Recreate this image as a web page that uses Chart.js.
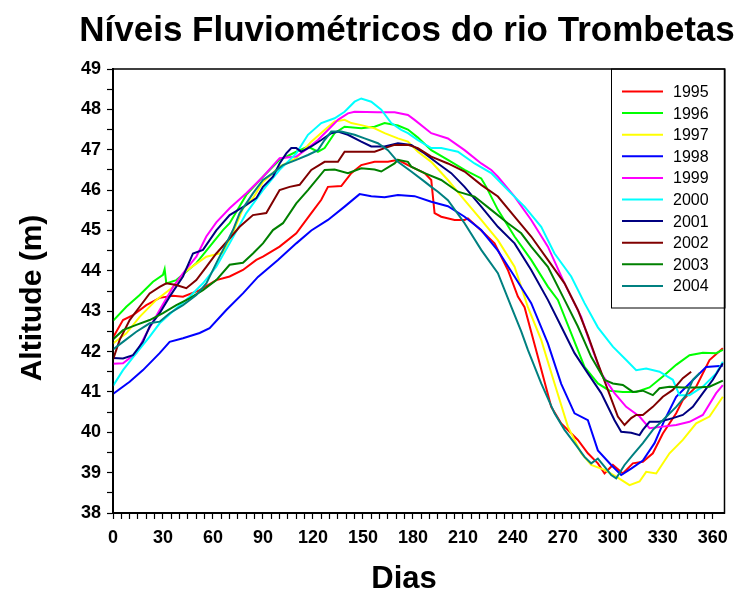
<!DOCTYPE html>
<html lang="pt">
<head>
<meta charset="utf-8">
<title>Níveis Fluviométricos do rio Trombetas</title>
<script src="https://cdn.jsdelivr.net/npm/chart.js@4.4.1/dist/chart.umd.min.js"></script>
<style>
  html, body { margin: 0; padding: 0; background: #fff; }
  #wrap { width: 736px; height: 597px; }
</style>
</head>
<body>
<div id="wrap"><canvas id="grafico" width="736" height="597"></canvas></div>
<script>
// --- dados (dia do ano, nível em metros) ---
const anos = ['1995', '1996', '1997', '1998', '1999', '2000', '2001', '2002', '2003', '2004'];
const cores = ['#ff0000', '#00ff00', '#ffff00', '#0000ff', '#ff00ff', '#00ffff', '#000080', '#800000', '#008000', '#008080'];

const dias1995 = [0, 6, 12, 20, 28, 36, 42, 52, 62, 70, 78, 86, 90, 100, 110, 119, 125, 129, 137, 143, 149, 157, 165, 171, 177, 181, 187, 191, 193, 197, 205, 211, 213, 221, 229, 237, 243, 247, 255, 263, 269, 279, 285, 291, 295, 300, 306, 312, 318, 324, 330, 338, 342, 350, 358, 366];
const nivel1995 = [42.35, 42.78, 42.9, 43.15, 43.33, 43.38, 43.36, 43.52, 43.77, 43.86, 44.02, 44.27, 44.35, 44.6, 44.93, 45.43, 45.76, 46.08, 46.1, 46.42, 46.62, 46.7, 46.7, 46.75, 46.62, 46.54, 46.42, 46.25, 45.43, 45.34, 45.26, 45.26, 45.3, 45.0, 44.68, 44.02, 43.36, 43.1, 41.87, 40.63, 40.22, 39.81, 39.48, 39.23, 38.98, 39.19, 38.98, 39.23, 39.27, 39.48, 39.97, 40.47, 40.8, 41.13, 41.79, 42.08];

const dias1996 = [0, 8, 16, 24, 30, 31, 32, 38, 50, 58, 66, 70, 80, 90, 100, 110, 117, 123, 127, 133, 139, 149, 157, 163, 171, 177, 183, 191, 201, 211, 221, 224, 231, 241, 251, 261, 267, 275, 283, 291, 298, 306, 314, 322, 330, 338, 346, 354, 362, 366];
const nivel1996 = [42.76, 43.11, 43.4, 43.73, 43.9, 44.04, 43.69, 43.77, 44.19, 44.6, 45.01, 45.18, 45.88, 46.33, 46.75, 46.95, 47.08, 46.95, 47.04, 47.41, 47.57, 47.53, 47.57, 47.66, 47.6, 47.5, 47.3, 46.99, 46.75, 46.5, 46.29, 46.08, 45.51, 44.85, 44.27, 43.61, 43.28, 42.45, 41.62, 41.21, 41.03, 41.0, 41.0, 41.11, 41.38, 41.67, 41.91, 41.97, 41.96, 42.04];

const dias1997 = [0, 8, 16, 26, 36, 44, 56, 66, 72, 78, 84, 90, 100, 110, 119, 127, 133, 139, 143, 149, 157, 163, 171, 177, 183, 191, 201, 211, 221, 231, 241, 249, 257, 265, 273, 281, 287, 295, 302, 310, 316, 320, 326, 334, 342, 350, 358, 366];
const nivel1997 = [42.2, 42.45, 42.86, 43.28, 43.6, 44.0, 44.35, 44.45, 44.95, 45.55, 45.8, 46.2, 46.58, 46.79, 47.2, 47.49, 47.7, 47.74, 47.66, 47.61, 47.53, 47.41, 47.28, 47.2, 46.95, 46.7, 46.25, 45.75, 45.26, 44.76, 44.1, 43.1, 42.29, 41.21, 40.14, 39.48, 39.19, 39.07, 38.9, 38.69, 38.78, 39.02, 38.98, 39.48, 39.81, 40.22, 40.39, 40.88];

const dias1998 = [0, 10, 18, 28, 34, 42, 52, 58, 68, 78, 87, 99, 110, 119, 129, 139, 148, 155, 163, 171, 181, 191, 201, 211, 221, 231, 241, 251, 261, 269, 277, 285, 291, 299, 305, 311, 318, 325, 331, 338, 346, 356, 366];
const nivel1998 = [40.95, 41.25, 41.54, 41.96, 42.24, 42.33, 42.46, 42.58, 43.03, 43.44, 43.85, 44.27, 44.68, 45.0, 45.26, 45.59, 45.9, 45.85, 45.82, 45.88, 45.85, 45.71, 45.6, 45.34, 45.01, 44.5, 43.86, 43.2, 42.2, 41.2, 40.47, 40.3, 39.55, 39.19, 38.94, 39.1, 39.3, 39.73, 40.3, 40.88, 41.21, 41.62, 41.65];

const dias1999 = [0, 6, 14, 20, 28, 36, 42, 50, 56, 62, 70, 80, 90, 100, 110, 117, 123, 129, 135, 141, 145, 159, 169, 177, 181, 191, 201, 211, 221, 227, 231, 241, 251, 261, 271, 281, 285, 293, 301, 308, 316, 322, 330, 338, 346, 354, 362, 366];
const nivel1999 = [41.7, 41.71, 41.96, 42.45, 43.03, 43.6, 43.94, 44.35, 44.85, 45.2, 45.55, 45.92, 46.33, 46.79, 46.83, 47.04, 47.24, 47.49, 47.74, 47.9, 47.94, 47.93, 47.93, 47.86, 47.74, 47.41, 47.28, 46.99, 46.66, 46.5, 46.33, 45.84, 45.26, 44.6, 43.69, 42.86, 42.37, 41.46, 40.97, 40.63, 40.39, 40.1, 40.14, 40.18, 40.26, 40.43, 40.97, 41.17];

const dias2000 = [0, 6, 14, 22, 28, 38, 46, 54, 62, 70, 80, 90, 100, 110, 117, 125, 133, 139, 145, 149, 155, 161, 167, 173, 177, 183, 191, 197, 207, 217, 227, 237, 247, 257, 265, 275, 283, 291, 300, 308, 314, 320, 328, 336, 340, 346, 354, 362, 366];
const nivel2000 = [41.15, 41.54, 41.96, 42.37, 42.7, 43.07, 43.36, 43.69, 44.1, 44.68, 45.43, 46.0, 46.5, 46.91, 47.37, 47.66, 47.78, 47.94, 48.19, 48.27, 48.19, 47.99, 47.66, 47.49, 47.41, 47.24, 47.04, 47.04, 46.95, 46.66, 46.42, 46.0, 45.59, 45.09, 44.43, 43.86, 43.2, 42.6, 42.12, 41.79, 41.54, 41.58, 41.5, 41.3, 40.92, 40.92, 41.13, 41.46, 41.75];

const dias2001 = [0, 6, 12, 18, 22, 28, 34, 42, 48, 54, 62, 70, 80, 86, 90, 96, 100, 104, 107, 110, 113, 119, 125, 131, 135, 141, 149, 155, 163, 171, 179, 187, 195, 203, 211, 221, 231, 241, 251, 261, 269, 277, 285, 293, 301, 305, 311, 316, 318, 322, 328, 336, 342, 348, 354, 360, 366];
const nivel2001 = [41.84, 41.83, 41.91, 42.24, 42.62, 42.95, 43.36, 43.86, 44.43, 44.52, 45.0, 45.38, 45.63, 45.8, 46.08, 46.33, 46.66, 46.91, 47.04, 47.04, 46.95, 47.08, 47.24, 47.41, 47.45, 47.37, 47.2, 47.08, 47.08, 47.16, 47.12, 46.91, 46.66, 46.42, 46.08, 45.59, 45.09, 44.68, 44.02, 43.28, 42.62, 41.96, 41.46, 40.97, 40.3, 40.01, 39.99, 39.93, 40.06, 40.26, 40.26, 40.35, 40.43, 40.63, 40.97, 41.3, 41.71];

const dias2002 = [0, 4, 10, 16, 22, 28, 32, 38, 44, 50, 56, 62, 70, 76, 84, 92, 100, 106, 112, 119, 127, 135, 139, 149, 157, 163, 169, 177, 183, 191, 201, 211, 221, 231, 241, 251, 261, 271, 279, 285, 291, 297, 303, 307, 311, 314, 318, 324, 330, 336, 342, 347];
const nivel2002 = [41.8, 42.29, 42.78, 43.11, 43.44, 43.6, 43.69, 43.65, 43.57, 43.77, 44.1, 44.43, 44.8, 45.09, 45.38, 45.43, 46.0, 46.08, 46.13, 46.5, 46.7, 46.7, 46.95, 46.95, 46.95, 47.04, 47.12, 47.12, 47.04, 46.83, 46.66, 46.46, 46.13, 45.84, 45.34, 44.85, 44.27, 43.69, 43.03, 42.4, 41.71, 41.05, 40.39, 40.18, 40.35, 40.43, 40.43, 40.63, 40.88, 41.05, 41.34, 41.5];

const dias2003 = [0, 6, 14, 22, 30, 38, 46, 54, 62, 70, 78, 84, 90, 96, 102, 110, 117, 127, 133, 141, 149, 157, 161, 169, 171, 177, 179, 187, 197, 207, 217, 227, 237, 245, 251, 261, 271, 279, 287, 295, 300, 306, 312, 318, 324, 328, 334, 342, 350, 358, 366];
const nivel2003 = [42.3, 42.53, 42.66, 42.78, 42.95, 43.15, 43.32, 43.52, 43.77, 44.15, 44.2, 44.43, 44.68, 45.01, 45.18, 45.67, 46.0, 46.5, 46.51, 46.42, 46.54, 46.51, 46.46, 46.66, 46.75, 46.7, 46.58, 46.42, 46.25, 45.96, 45.84, 45.51, 45.18, 44.93, 44.6, 44.1, 43.28, 42.62, 41.87, 41.3, 41.21, 41.17, 41.0, 41.03, 40.92, 41.09, 41.13, 41.11, 41.11, 41.13, 41.28];

const dias2004 = [0, 6, 14, 22, 28, 34, 42, 50, 56, 62, 68, 72, 76, 84, 90, 96, 102, 110, 117, 123, 127, 131, 137, 145, 151, 159, 165, 171, 179, 187, 191, 195, 201, 211, 221, 231, 239, 245, 249, 257, 265, 271, 277, 283, 287, 291, 295, 299, 302, 307, 312, 318, 324, 330, 338, 344, 348, 352];
const nivel2004 = [42.05, 42.24, 42.49, 42.7, 42.74, 42.95, 43.15, 43.4, 43.69, 44.19, 44.68, 45.01, 45.43, 45.92, 46.25, 46.42, 46.62, 46.75, 46.87, 46.99, 47.24, 47.45, 47.45, 47.37, 47.28, 47.16, 46.99, 46.7, 46.46, 46.21, 46.08, 45.96, 45.75, 45.18, 44.52, 43.94, 43.11, 42.5, 42.04, 41.21, 40.47, 40.06, 39.73, 39.39, 39.23, 39.35, 39.15, 38.94, 38.86, 39.19, 39.44, 39.73, 40.06, 40.3, 40.63, 40.92, 41.3, 41.46];

const todosDias = [dias1995, dias1996, dias1997, dias1998, dias1999, dias2000, dias2001, dias2002, dias2003, dias2004];
const todosNiveis = [nivel1995, nivel1996, nivel1997, nivel1998, nivel1999, nivel2000, nivel2001, nivel2002, nivel2003, nivel2004];

const FONTE = '"Liberation Sans", Arial, sans-serif';

// montar datasets (x = dia, y = nível)
const datasets = anos.map((ano, i) => ({
    label: ano,
    data: todosDias[i].map((d, k) => ({ x: d, y: todosNiveis[i][k] })),
    borderColor: cores[i],
    borderWidth: 2,
    pointRadius: 0,
    tension: 0,
    fill: false,
    order: anos.length - i // o último ano fica por cima
}));

// --- títulos e moldura ---
const titulos = {
    id: 'titulos',
    afterDraw(chart) {
        const ctx = chart.ctx;
        const a = chart.chartArea;
        ctx.save();
        // moldura do gráfico
        ctx.strokeStyle = '#000';
        ctx.lineWidth = 1.5;
        ctx.strokeRect(a.left, a.top, a.right - a.left, a.bottom - a.top);

        ctx.fillStyle = '#000';
        ctx.textAlign = 'center';
        ctx.textBaseline = 'alphabetic';
        ctx.font = 'bold 35px ' + FONTE;
        ctx.fillText('Níveis Fluviométricos do rio Trombetas', 407, 41);

        ctx.textBaseline = 'middle';
        ctx.font = 'bold 31px ' + FONTE;
        ctx.fillText('Dias', 404, 579);

        ctx.translate(33, 298);
        ctx.rotate(-Math.PI / 2);
        ctx.font = 'bold 30px ' + FONTE;
        ctx.fillText('Altitude (m)', 0, 0);
        ctx.restore();
    }
};

// --- legenda dentro da área do gráfico ---
const legenda = {
    id: 'legenda',
    afterDatasetsDraw(chart) {
        const ctx = chart.ctx;
        const a = chart.chartArea;
        const x0 = 611, y0 = a.top, larg = a.right - x0, alt = 239;
        ctx.save();
        ctx.fillStyle = '#fff';
        ctx.fillRect(x0, y0, larg, alt);
        ctx.strokeStyle = '#000';
        ctx.lineWidth = 1;
        ctx.strokeRect(x0 + 0.5, y0, larg, alt);
        ctx.font = '16px ' + FONTE;
        ctx.textAlign = 'left';
        ctx.textBaseline = 'middle';
        chart.data.datasets.forEach((ds, i) => {
            const y = 91.5 + i * 21.6;
            ctx.strokeStyle = ds.borderColor;
            ctx.lineWidth = 2;
            ctx.beginPath();
            ctx.moveTo(622, y);
            ctx.lineTo(663, y);
            ctx.stroke();
            ctx.fillStyle = '#000';
            ctx.fillText(ds.label, 673, y + 1);
        });
        ctx.restore();
    }
};

new Chart(document.getElementById('grafico'), {
    type: 'line',
    data: { datasets: datasets },
    options: {
        responsive: false,
        animation: false,
        devicePixelRatio: 1,
        layout: { padding: { top: 69, right: 8, left: 0, bottom: 0 } },
        plugins: {
            legend: { display: false },
            tooltip: { enabled: false }
        },
        scales: {
            x: {
                type: 'linear',
                min: 0,
                max: 367,
                afterFit: s => { s.height = 84; },
                afterBuildTicks: s => { s.ticks = s.ticks.filter(t => t.value % 5 === 0); },
                border: { display: true, color: '#000', width: 2 },
                grid: { drawOnChartArea: false, drawTicks: true, tickLength: 6, tickColor: '#000', tickWidth: 1.2 },
                ticks: {
                    stepSize: 5,
                    autoSkip: false,
                    maxRotation: 0,
                    padding: 8,
                    color: '#000',
                    font: { family: FONTE, size: 18, weight: 'bold' },
                    callback: v => (v % 30 === 0 ? v : '')
                }
            },
            y: {
                min: 38,
                max: 49,
                afterFit: s => { s.width = 113; },
                border: { display: true, color: '#000', width: 2 },
                grid: { drawOnChartArea: false, drawTicks: true, tickLength: 6, tickColor: '#000', tickWidth: 1.2 },
                ticks: {
                    stepSize: 0.5,
                    autoSkip: false,
                    padding: 6,
                    color: '#000',
                    font: { family: FONTE, size: 18, weight: 'bold' },
                    callback: v => (Number.isInteger(v) ? v : '')
                }
            }
        }
    },
    plugins: [titulos, legenda]
});
</script>
</body>
</html>
